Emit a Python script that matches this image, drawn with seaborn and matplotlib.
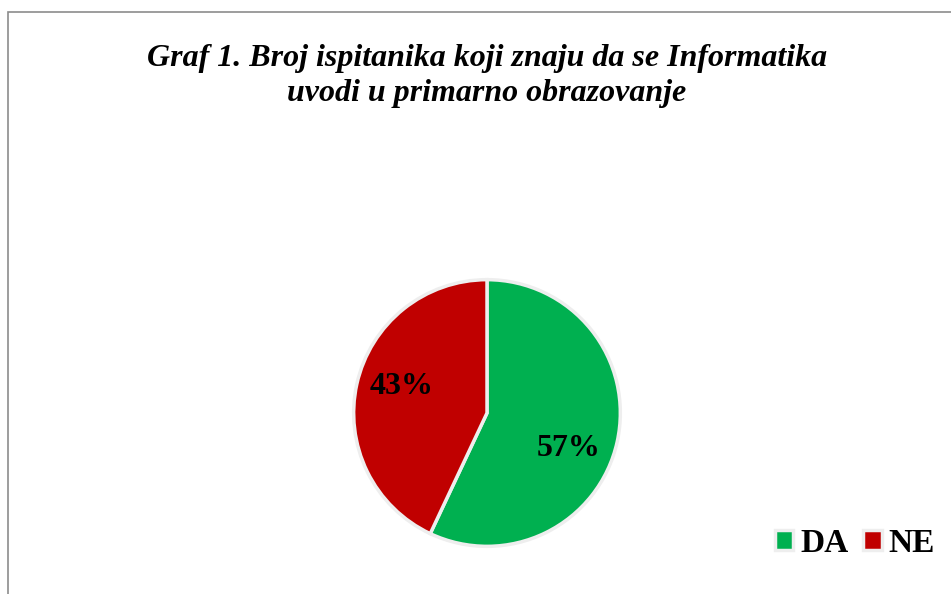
import matplotlib
matplotlib.use("Agg")
import matplotlib.pyplot as plt
from matplotlib.patches import Rectangle
import seaborn as sns

sns.set_theme(style="white")
plt.rcParams['font.family'] = ['Liberation Serif', 'DejaVu Serif']
plt.rcParams['text.color'] = 'black'

# podaci
kategorije = ["DA", "NE"]
postoci = [57, 43]
boje = ["#00B050", "#C00000"]
naslov = "Graf 1. Broj ispitanika koji znaju da se Informatika\nuvodi u primarno obrazovanje"

W, H = 951, 594
fig = plt.figure(figsize=(W / 100, H / 100), dpi=100)

# okvir grafikona (odrezan desno i dolje)
fig.patches.append(Rectangle((8 / W, -0.01), 1.0, 1 - 12 / H + 0.01, transform=fig.transFigure,
                             fill=False, edgecolor="#8c8c8c", linewidth=1.2))

cx, cy, r = 487, 413, 136
ax = fig.add_axes([(cx - r) / W, (H - cy - r) / H, 2 * r / W, 2 * r / H])
wedges, texts, autotexts = ax.pie(postoci, colors=boje, startangle=90, counterclock=False,
                                  autopct="%d%%", pctdistance=0.68,
                                  wedgeprops=dict(edgecolor="#eeeeee", linewidth=2.5),
                                  textprops=dict(fontsize=23, fontweight="bold", color="black"))
# malo pomaknuti oznake kao u originalu
autotexts[0].set_position((autotexts[0].get_position()[0] - 0.05, autotexts[0].get_position()[1] - 0.12))
autotexts[1].set_position((autotexts[1].get_position()[0] + 0.02, autotexts[1].get_position()[1] + 0.05))
ax.set_xlim(-1.02, 1.02)
ax.set_ylim(-1.02, 1.02)
ax.set_aspect("equal")
ax.axis("off")

fig.text(487 / W, 1 - 76 / H, naslov, ha="center", va="center", fontsize=23,
         fontweight="bold", fontstyle="italic", linespacing=1.3)

fig.legend(wedges, kategorije, loc="center right", bbox_to_anchor=(958 / W, 1 - 543 / H),
           ncol=2, frameon=False, handlelength=0.55, handleheight=0.55, handletextpad=0.2,
           columnspacing=0.45, borderpad=0.2, prop=dict(size=24, weight="bold"))

fig.savefig("out.png", dpi=100)
